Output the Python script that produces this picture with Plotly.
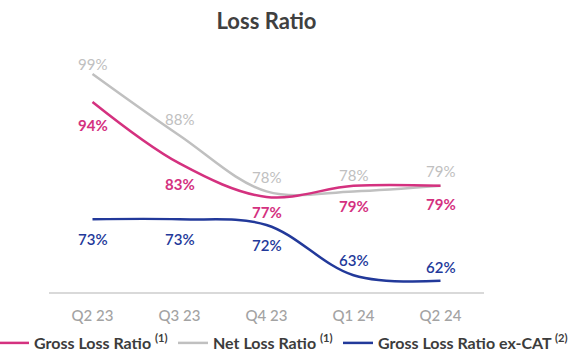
import plotly.graph_objects as go

quarters = ["Q2 23", "Q3 23", "Q4 23", "Q1 24", "Q2 24"]
gross_loss_ratio = [94, 83, 77, 79, 79]
net_loss_ratio = [99, 88, 78, 78, 79]
gross_ex_cat = [73, 73, 72, 63, 62]

series_names = [
    "Gross Loss Ratio <sup>(1)</sup>",
    "Net Loss Ratio <sup>(1)</sup>",
    "Gross Loss Ratio ex-CAT <sup>(2)</sup>",
]

# styling
PINK = "#d4317f"
GRAY = "#c0c0c0"
BLUE = "#22399a"
FONT = "Lato"
W, H = 569, 355
ML, MR, MT, MB = 49, 85, 50, 63
PW = W - ML - MR

# (name, values, colour, label weight, label pixel offsets, legend id, legend left px)
series = [
    (series_names[1], net_loss_ratio, GRAY, 400, [10, 17, 14, 16, 15], "legend2", 173),
    (series_names[0], gross_loss_ratio, PINK, 700, [-23, -21, -15, -20, -18], "legend", -6),
    (series_names[2], gross_ex_cat, BLUE, 600, [-20, -20, -20, 15, 14], "legend3", 338),
]

fig = go.Figure()
annotations = []
legends = {}
for name, vals, color, weight, shifts, leg, left in series:
    fig.add_trace(go.Scatter(
        x=quarters, y=vals, name=name, mode="lines", legend=leg,
        line=dict(color=color, width=2.5, shape="spline", smoothing=1.0),
        hoverinfo="skip",
    ))
    for q, v, s in zip(quarters, vals, shifts):
        annotations.append(dict(
            x=q, y=v, text=f"{v}%", showarrow=False, yshift=s,
            xanchor="center", yanchor="middle",
            font=dict(family=FONT, size=15, color=color, weight=weight),
        ))
    legends[leg] = dict(
        orientation="h", xref="paper", x=(left - ML) / PW, xanchor="left",
        yref="container", y=1 - 343 / H, yanchor="middle",
        font=dict(family=FONT, size=16, color="#3c3c3c", weight=700),
        itemwidth=30, bgcolor="rgba(0,0,0,0)",
    )

fig.update_layout(
    width=W, height=H,
    margin=dict(l=ML, r=MR, t=MT, b=MB, autoexpand=False),
    paper_bgcolor="white", plot_bgcolor="white",
    title=dict(text="Loss Ratio", x=0.5, xref="paper", xanchor="center",
               y=1 - 21 / H, yref="container", yanchor="middle",
               font=dict(family=FONT, size=22, color="#404040", weight=700)),
    xaxis=dict(range=[-0.5, 4.5], showgrid=False, zeroline=False,
               showline=True, linecolor="#d9d9d9", linewidth=2,
               ticks="", ticklabelstandoff=9,
               tickfont=dict(family=FONT, size=15, color="#a3a3a3", weight=500),
               fixedrange=True, automargin=False),
    yaxis=dict(range=[60, 103.3], visible=False, fixedrange=True),
    annotations=annotations,
    showlegend=True,
    **legends,
)

fig.write_html("out.html", config={"displayModeBar": False},
               post_script="document.body.style.margin='0';")
